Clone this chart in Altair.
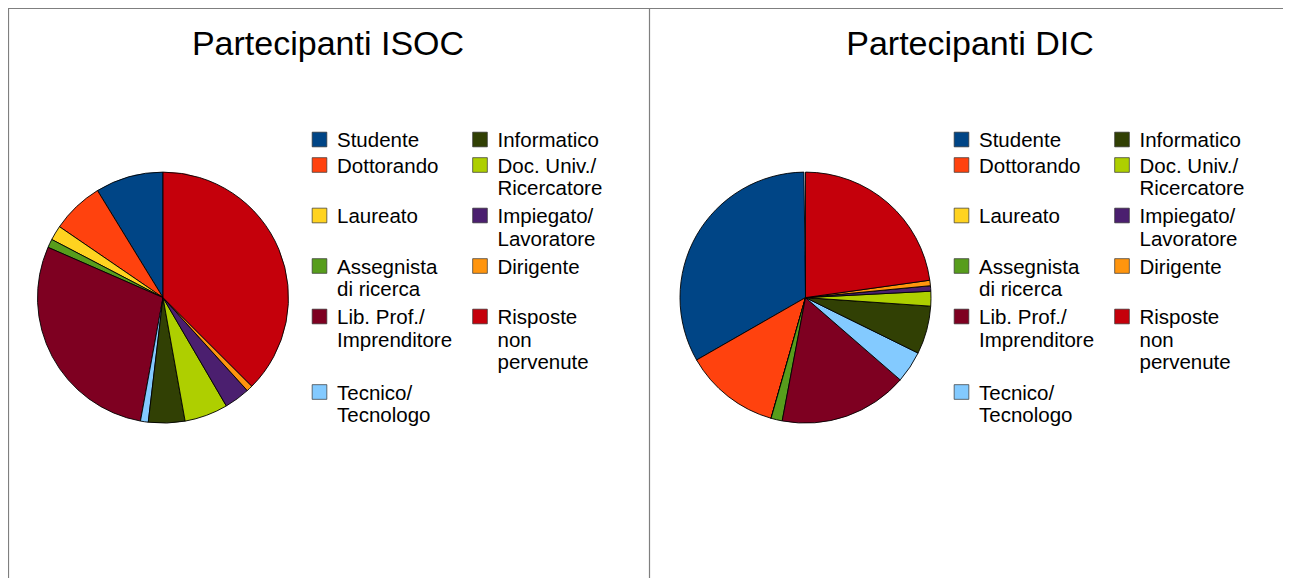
import altair as alt
import pandas as pd

# ---------------- data ----------------
categories = ["Studente", "Dottorando", "Laureato", "Assegnista di ricerca",
              "Lib. Prof./ Imprenditore", "Tecnico/ Tecnologo", "Informatico",
              "Doc. Univ./ Ricercatore", "Impiegato/ Lavoratore", "Dirigente",
              "Risposte non pervenute"]
legend_labels = ["Studente", "Dottorando", "Laureato", "Assegnista\ndi ricerca",
                 "Lib. Prof./\nImprenditore", "Tecnico/\nTecnologo", "Informatico",
                 "Doc. Univ./\nRicercatore", "Impiegato/\nLavoratore", "Dirigente",
                 "Risposte\nnon\npervenute"]
colors = ["#004586", "#ff420e", "#ffd320", "#579d1c", "#7e0021", "#83caff",
          "#314004", "#aecf00", "#4b1f6f", "#ff950e", "#c5000b"]
isoc_values = [8.75, 6.7, 1.9, 1.1, 28.7, 1.0, 4.7, 5.6, 3.3, 0.8, 37.5]
dic_values = [33.1, 12.3, 0.0, 1.45, 16.6, 4.1, 6.2, 1.9, 0.7, 0.7, 22.8]
titles = ["Partecipanti ISOC", "Partecipanti DIC"]
panels = ["ISOC", "DIC"]

# ---------------- layout ----------------
W, H = 1275, 570
panel_left = [-1, 641]
FONT = "Liberation Sans"

xs = alt.Scale(domain=[0, W], range=[0, W])
ys = alt.Scale(domain=[0, H], range=[0, H])
cscale = alt.Scale(domain=categories, range=colors)

pie_rows = []
for p, vals in zip(panels, [isoc_values, dic_values]):
    for i, (c, v) in enumerate(zip(categories, vals)):
        pie_rows.append({"panel": p, "cat": c, "value": v, "idx": i})
pie_df = pd.DataFrame(pie_rows)

# legend grid: 6 rows in column 1, 5 in column 2
ncol1 = 6
nlines = [lab.count("\n") + 1 for lab in legend_labels]
row_lines = []
for r in range(ncol1):
    ls = [nlines[r]]
    if ncol1 + r < len(legend_labels):
        ls.append(nlines[ncol1 + r])
    row_lines.append(max(ls))
row_y = [131.5]
for r in range(1, ncol1):
    row_y.append(row_y[-1] + 25 * row_lines[r - 1] + 0.5)

leg_rows = []
for pi, p in enumerate(panels):
    for i, (c, lab) in enumerate(zip(categories, legend_labels)):
        col = 0 if i < ncol1 else 1
        r = i if i < ncol1 else i - ncol1
        sx = panel_left[pi] + (312.5 if col == 0 else 473)
        leg_rows.append({"cat": c, "label": lab, "sx": sx, "tx": sx + 17.5,
                         "sy": row_y[r], "ty": row_y[r] + 7.5})
leg_df = pd.DataFrame(leg_rows)

title_df = pd.DataFrame({"title": titles,
                         "tx": [pl + 321 for pl in panel_left],
                         "ty": [46.5, 46.5]})

rule_df = pd.DataFrame({
    "x": [0, 0.5, 641.5],
    "x2": [W, 0.5, 641.5],
    "y": [0.5, 0, 0],
    "y2": [0.5, H, H],
})

# ---------------- marks ----------------
def pie(panel, cx):
    return alt.Chart(pie_df).transform_filter(
        alt.datum.panel == panel
    ).mark_arc(radius=125.5, stroke="#000000", strokeWidth=0.9).encode(
        theta=alt.Theta("value:Q", stack=True),
        color=alt.Color("cat:N", scale=cscale, legend=None),
        order=alt.Order("idx:Q", sort="descending"),
        x=alt.value(cx),
        y=alt.value(289.6),
    )

pie1 = pie("ISOC", panel_left[0] + 156)
pie2 = pie("DIC", panel_left[1] + 156.5)

squares = alt.Chart(leg_df).mark_square(size=215, opacity=1, filled=True,
                                         stroke="#333333", strokeWidth=0.7).encode(
    x=alt.X("sx:Q", scale=xs, axis=None),
    y=alt.Y("sy:Q", scale=ys, axis=None),
    color=alt.Color("cat:N", scale=cscale, legend=None),
)

labels = alt.Chart(leg_df).mark_text(
    align="left", baseline="alphabetic", font=FONT, fontSize=20.5,
    lineBreak="\n", lineHeight=22.5, color="#000000"
).encode(
    x=alt.X("tx:Q", scale=xs, axis=None),
    y=alt.Y("ty:Q", scale=ys, axis=None),
    text="label:N",
)

title_marks = alt.Chart(title_df).mark_text(
    align="center", baseline="alphabetic", font=FONT, fontSize=34, color="#000000"
).encode(
    x=alt.X("tx:Q", scale=xs, axis=None),
    y=alt.Y("ty:Q", scale=ys, axis=None),
    text="title:N",
)

rules = alt.Chart(rule_df).mark_rule(color="#7f7f7f", strokeWidth=1.2).encode(
    x=alt.X("x:Q", scale=xs, axis=None),
    x2="x2:Q",
    y=alt.Y("y:Q", scale=ys, axis=None),
    y2="y2:Q",
)

chart = alt.layer(rules, pie1, pie2, squares, labels, title_marks).properties(
    width=W, height=H,
    autosize=alt.AutoSizeParams(type="none"),
    padding=0,
    background="#ffffff",
).configure_view(stroke=None)

chart.save("out.html", embed_options={"renderer": "svg", "actions": False})
